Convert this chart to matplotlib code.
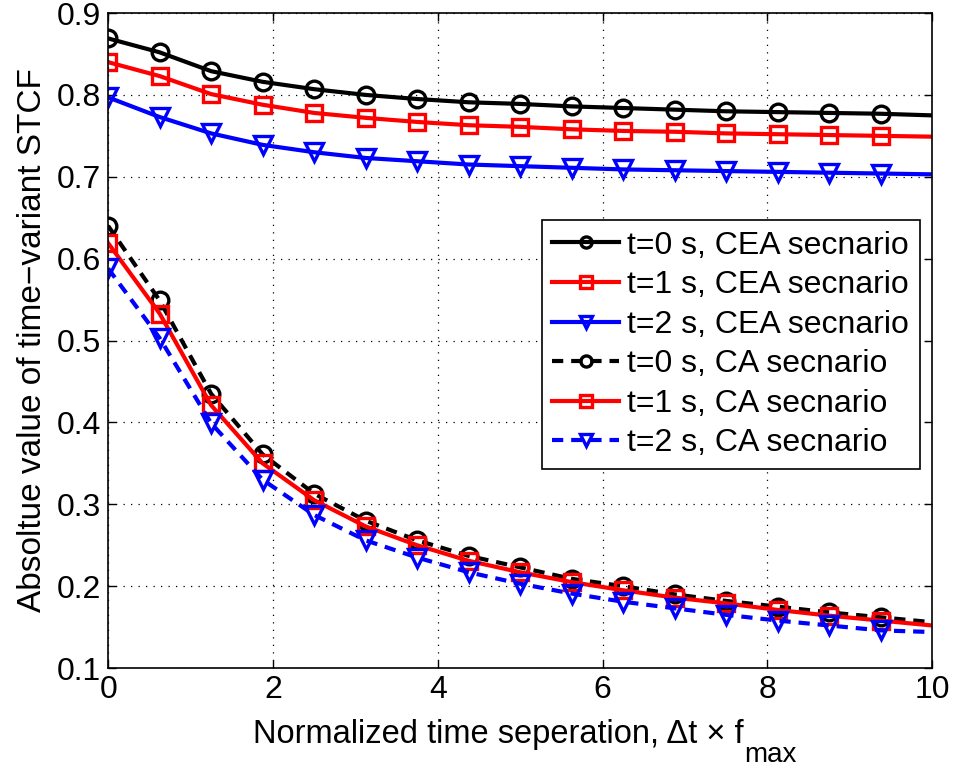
import matplotlib
matplotlib.use("Agg")
import matplotlib.pyplot as plt

x = [0, 0.625, 1.25, 1.875, 2.5, 3.125, 3.75, 4.375, 5.0, 5.625, 6.25,
     6.875, 7.5, 8.125, 8.75, 9.375, 10.0]

cea_t0 = [0.869, 0.852, 0.829, 0.816, 0.807, 0.800, 0.795, 0.791, 0.789,
          0.786, 0.784, 0.782, 0.780, 0.779, 0.778, 0.777, 0.775]
cea_t1 = [0.840, 0.823, 0.801, 0.788, 0.778, 0.772, 0.767, 0.763, 0.761,
          0.758, 0.756, 0.755, 0.753, 0.752, 0.751, 0.750, 0.749]
cea_t2 = [0.797, 0.773, 0.753, 0.739, 0.730, 0.723, 0.719, 0.715, 0.713,
          0.711, 0.709, 0.708, 0.707, 0.706, 0.705, 0.704, 0.703]
ca_t0 = [0.640, 0.549, 0.435, 0.361, 0.313, 0.280, 0.256, 0.237, 0.223,
         0.209, 0.200, 0.190, 0.182, 0.175, 0.168, 0.162, 0.156]
ca_t1 = [0.619, 0.533, 0.421, 0.350, 0.305, 0.273, 0.250, 0.231, 0.217,
         0.205, 0.195, 0.186, 0.179, 0.171, 0.164, 0.158, 0.152]
ca_t2 = [0.588, 0.503, 0.399, 0.330, 0.287, 0.256, 0.235, 0.217, 0.203,
         0.191, 0.181, 0.173, 0.165, 0.158, 0.152, 0.146, 0.144]

labels = ["t=0 s, CEA secnario", "t=1 s, CEA secnario", "t=2 s, CEA secnario",
          "t=0 s, CA secnario", "t=1 s, CA secnario", "t=2 s, CA secnario"]

xticks = [0, 2, 4, 6, 8, 10]
yticks = [0.1, 0.2, 0.3, 0.4, 0.5, 0.6, 0.7, 0.8, 0.9]

xlabel_main = "Normalized time seperation, \u0394t \u00d7 f"
xlabel_sub = "max"
ylabel = "Absoltue value of time\u2212variant STCF"

plt.rcParams['font.family'] = ['Liberation Sans', 'DejaVu Sans']

W, H = 957, 767
fig = plt.figure(figsize=(W / 100, H / 100), dpi=100)
ax = fig.add_axes([0.113, 0.129, 0.861, 0.854])

series = [
    (cea_t0, 'black', '-', 'o'),
    (cea_t1, 'red', '-', 's'),
    (cea_t2, 'blue', '-', 'v'),
    (ca_t0, 'black', '--', 'o'),
    (ca_t1, 'red', '-', 's'),
    (ca_t2, 'blue', '--', 'v'),
]
mk = {'o': 12, 's': 11, 'v': 13}
for (ys, c, ls, m), lab in zip(series, labels):
    ax.plot(x, ys, color=c, linestyle=ls, linewidth=3.0, marker=m,
            markersize=mk[m], markerfacecolor='none', markeredgewidth=2.4,
            markevery=list(range(len(x) - 1)), label=lab,
            dashes=(2.7, 1.9) if ls == '--' else (None, None))

ax.set_xlim(0, 10)
ax.set_ylim(0.1, 0.9)
ax.set_xticks(xticks)
ax.set_yticks(yticks)
ax.set_xticklabels([str(t) for t in xticks])
ax.set_yticklabels([f"{t:.1f}" for t in yticks])
ax.tick_params(direction='in', length=6, width=1, labelsize=23,
               top=True, right=True, pad=5)
ax.grid(True, linestyle=(0, (1, 5)), color='black', linewidth=0.9)
for s in ax.spines.values():
    s.set_linewidth(1.2)

ax.set_ylabel(ylabel, fontsize=24, labelpad=6)

leg = ax.legend(loc='upper right', bbox_to_anchor=(0.985, 0.684), fontsize=23,
                handlelength=2.1, handletextpad=0.25, borderpad=0.33,
                labelspacing=0.3, fancybox=False, edgecolor='black',
                framealpha=1, borderaxespad=0)
leg.get_frame().set_linewidth(1.2)
for h in leg.legend_handles:
    h.set_markersize(8)
    h.set_markeredgewidth(2.4)

# x label: main part plus a lowered, large subscript (MATLAB style)
t_main = fig.text(253 / W, (H - 743) / H, xlabel_main, fontsize=23.5,
                  ha='left', va='baseline')
fig.canvas.draw()
bb = t_main.get_window_extent()
fig.text((bb.x1 + 1) / W, (H - 762) / H, xlabel_sub, fontsize=20,
         ha='left', va='baseline')

fig.savefig("out.png", dpi=100)
